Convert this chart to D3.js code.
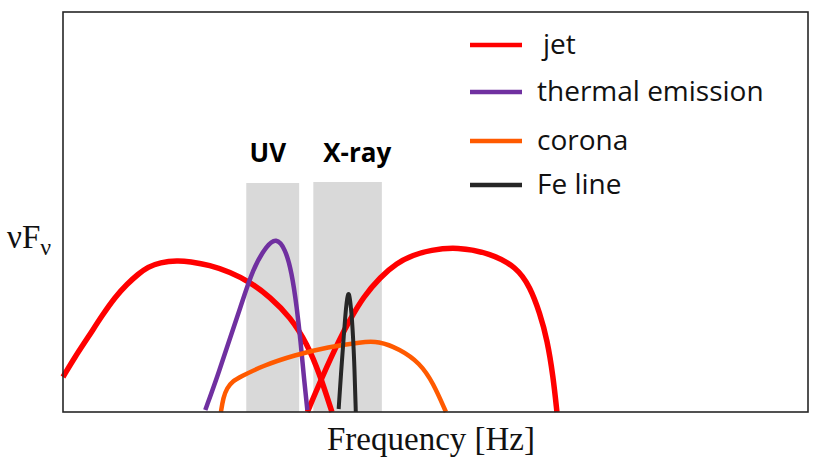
<!DOCTYPE html>
<html>
<head>
<meta charset="utf-8">
<script src="https://cdn.jsdelivr.net/npm/d3@7"></script>
<style>
  body { margin: 0; background: #fff; }
  .legend text { font-family: "Open Sans", sans-serif; font-size: 28px; fill: #111; }
  .band-label { font-family: "Open Sans", sans-serif; font-size: 26px; font-weight: bold; fill: #000; }
  .axis-label { font-family: "Liberation Serif", serif; font-size: 33px; fill: #111; }
</style>
</head>
<body>
<div id="chart"></div>
<script>
var width = 817;
var height = 471;
var margin = {left: 63, right: 9, top: 12, bottom: 59};

// series names + colours
var seriesNames = ["jet", "thermal emission", "corona", "Fe line"];
var seriesColors = ["#ff0000", "#7030a0", "#ff5a00", "#262626"];

// log frequency (arbitrary units, 0-100) and nuFnu (arbitrary units, 0-100)
var jetLowX = [0, 1.6, 3.4, 5.2, 7.0, 8.6, 10.1, 11.4, 13.0, 15.4, 17.0, 19.7, 22.4, 25.1, 27.8, 30.5, 32.8, 34.5, 36.1];
var jetLowY = [8.75, 13.75, 18.75, 24, 28.75, 32, 34.5, 36.25, 37.4, 37.9, 37.6, 36.75, 35, 32.5, 28.75, 23.75, 17, 9.25, 0];

var jetHighX = [32.8, 34.9, 37.2, 38.5, 40.3, 42.6, 44.8, 47.0, 49.3, 52.9, 57.3, 60.9, 62.7, 64.0, 65.0, 65.8, 66.3];
var jetHighY = [0, 9.25, 18.5, 23, 28.75, 33.75, 37.25, 39.25, 40.5, 41.25, 39.75, 36.25, 31.25, 24.75, 18, 8.75, 0];

var thermalX = [19.1, 20.7, 22.1, 23.8, 25.5, 27.4, 28.6, 29.8, 30.7, 31.4, 31.9, 32.3, 32.8];
var thermalY = [0.5, 8.75, 16.75, 26, 36, 41.75, 43.5, 41, 35, 26, 17.5, 9.25, 0.5];

var coronaX = [21.2, 21.5, 22.0, 22.8, 23.8, 26.7, 31.1, 35.6, 40.1, 42.3, 45.2, 47.9, 49.7, 51.4];
var coronaY = [0, 3.5, 6, 7.75, 8.75, 11.5, 14.25, 16.25, 17.5, 17.75, 15.75, 12.25, 7.25, 0];

var feX = [37.0, 37.3, 37.7, 38.0, 38.3, 38.5, 38.8, 39.1, 39.3];
var feY = [0.75, 9.25, 19.25, 26.75, 30.25, 28.75, 23.5, 13, 0];

// shaded bands
var bandLabels = ["UV", "X-ray"];
var bandStart = [24.6, 33.6];
var bandEnd = [31.7, 42.8];
var bandTop = [57.25, 57.5];
var bandLabelX = [27.5, 39.5];

var curves = [
  {name: "jet", x: jetLowX, y: jetLowY, color: seriesColors[0], w: 5.5},
  {name: "jet", x: jetHighX, y: jetHighY, color: seriesColors[0], w: 5.5},
  {name: "thermal emission", x: thermalX, y: thermalY, color: seriesColors[1], w: 4.5},
  {name: "corona", x: coronaX, y: coronaY, color: seriesColors[2], w: 4.5},
  {name: "Fe line", x: feX, y: feY, color: seriesColors[3], w: 4}
];

var svg = d3.select("#chart").append("svg")
    .attr("width", width)
    .attr("height", height);

var x = d3.scaleLinear().domain([0, 100]).range([margin.left, width - margin.right]);
var y = d3.scaleLinear().domain([0, 100]).range([height - margin.bottom, margin.top]);

// bands
svg.selectAll("rect.band").data(bandLabels).enter()
    .append("rect")
    .attr("class", "band")
    .attr("x", function(d, i){ return x(bandStart[i]) })
    .attr("width", function(d, i){ return x(bandEnd[i]) - x(bandStart[i]) })
    .attr("y", function(d, i){ return y(bandTop[i]) })
    .attr("height", function(d, i){ return y(0) - y(bandTop[i]) })
    .attr("fill", "#d9d9d9");

svg.selectAll("text.band-label").data(bandLabels).enter()
    .append("text")
    .attr("class", "band-label")
    .attr("x", function(d, i){ return x(bandLabelX[i]) })
    .attr("y", 162)
    .attr("text-anchor", "middle")
    .text(function(d){ return d });

// basis spline smooths the hand-read points
var line = d3.line()
    .x(function(d){ return x(d[0]) })
    .y(function(d){ return y(d[1]) })
    .curve(d3.curveBasis);

svg.selectAll("path.curve").data(curves).enter()
    .append("path")
    .attr("class", "curve")
    .attr("fill", "none")
    .attr("stroke", function(d){ return d.color })
    .attr("stroke-width", function(d){ return d.w })
    .attr("d", function(d){ return line(d3.zip(d.x, d.y)) });

// frame
svg.append("rect")
    .attr("x", x(0))
    .attr("y", y(100))
    .attr("width", x(100) - x(0))
    .attr("height", y(0) - y(100))
    .attr("fill", "none")
    .attr("stroke", "#262626")
    .attr("stroke-width", 1.6);

// legend
var legendY = [45, 92, 141, 185];
var legend = svg.append("g").attr("class", "legend");
var items = legend.selectAll("g").data(seriesNames).enter()
    .append("g")
    .attr("transform", function(d, i){ return "translate(470," + legendY[i] + ")" });

items.append("line")
    .attr("x1", 0).attr("x2", 52)
    .attr("stroke", function(d, i){ return seriesColors[i] })
    .attr("stroke-width", 4.5);

items.append("text")
    .attr("x", function(d, i){ return i == 0 ? 73 : 67 })
    .attr("y", 9)
    .text(function(d){ return d });

// axis titles
svg.append("text")
    .attr("class", "axis-label")
    .attr("x", 431)
    .attr("y", 450)
    .attr("text-anchor", "middle")
    .text("Frequency [Hz]");

var yl = svg.append("text")
    .attr("class", "axis-label")
    .attr("x", 7)
    .attr("y", 248);
yl.append("tspan").text("νF");
yl.append("tspan").attr("dy", 7).attr("font-size", "24px").text("ν");
</script>
</body>
</html>
